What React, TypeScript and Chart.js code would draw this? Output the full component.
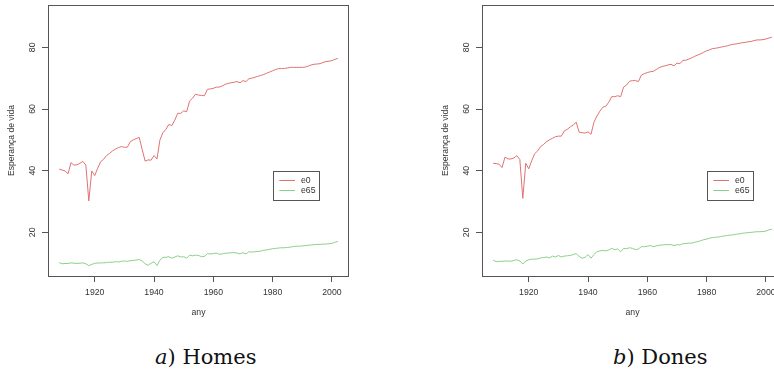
import React, { useEffect, useRef } from "react";
import { Chart, registerables } from "chart.js";

Chart.register(...registerables);

// ---------- data ----------
const years = [
  1908, 1909, 1910, 1911, 1912, 1913, 1914, 1915, 1916, 1917,
  1918, 1919, 1920, 1921, 1922, 1923, 1924, 1925, 1926, 1927,
  1928, 1929, 1930, 1931, 1932, 1933, 1934, 1935, 1936, 1937,
  1938, 1939, 1940, 1941, 1942, 1943, 1944, 1945, 1946, 1947,
  1948, 1949, 1950, 1951, 1952, 1953, 1954, 1955, 1956, 1957,
  1958, 1959, 1960, 1961, 1962, 1963, 1964, 1965, 1966, 1967,
  1968, 1969, 1970, 1971, 1972, 1973, 1974, 1975, 1976, 1977,
  1978, 1979, 1980, 1981, 1982, 1983, 1984, 1985, 1986, 1987,
  1988, 1989, 1990, 1991, 1992, 1993, 1994, 1995, 1996, 1997,
  1998, 1999, 2000, 2001, 2002,
];

const homesE0 = [
  40.5, 40.2, 39.9, 39.0, 42.6, 41.8, 41.9, 42.4, 43.0, 41.8,
  30.2, 39.9, 38.4, 40.8, 42.9, 43.7, 44.9, 45.6, 46.4, 47.0,
  47.5, 47.8, 47.6, 47.6, 49.4, 50.0, 50.4, 50.8, 46.9, 43.1,
  43.5, 43.4, 44.9, 43.8, 50.0, 52.3, 53.4, 55.0, 54.6, 56.4,
  58.6, 58.6, 59.4, 59.1, 62.6, 63.5, 64.8, 64.5, 64.4, 64.3,
  66.4, 66.5, 66.7, 67.1, 67.1, 67.5, 68.0, 68.3, 68.5, 68.7,
  68.9, 68.5, 69.2, 68.9, 69.8, 70.0, 70.3, 70.6, 70.9, 71.2,
  71.6, 72.0, 72.4, 72.8, 73.1, 73.1, 73.2, 73.3, 73.5, 73.5,
  73.5, 73.5, 73.5, 73.6, 73.9, 74.3, 74.5, 74.6, 74.7, 75.1,
  75.4, 75.5, 75.7, 76.1, 76.4,
];

const homesE65 = [
  10.2, 9.8, 9.9, 9.9, 10.1, 10.0, 9.9, 10.0, 10.1, 9.8,
  9.2, 9.6, 9.95, 10.05, 10.1, 10.1, 10.2, 10.3, 10.3, 10.5,
  10.4, 10.6, 10.7, 10.6, 10.8, 10.9, 11.0, 11.2, 10.7, 9.8,
  9.3, 10.0, 10.5, 9.2, 11.0, 11.9, 11.9, 12.1, 11.6, 12.0,
  12.4, 12.0, 12.1, 11.6, 12.6, 12.4, 12.6, 12.5, 12.1, 12.2,
  13.1, 13.0, 13.1, 13.3, 12.9, 13.0, 13.2, 13.3, 13.4, 13.4,
  13.3, 13.0, 13.4, 13.0, 13.7, 13.6, 13.7, 13.8, 13.9, 14.2,
  14.3, 14.5, 14.7, 14.8, 14.9, 15.0, 15.0, 15.1, 15.2, 15.4,
  15.5, 15.5, 15.6, 15.7, 15.8, 15.9, 16.0, 16.1, 16.1, 16.2,
  16.2, 16.3, 16.4, 16.8, 17.0,
];

const donesE0 = [
  42.4, 42.3, 42.1, 41.0, 44.4, 43.8, 43.8, 44.1, 44.9, 43.6,
  31.0, 42.4, 40.6, 43.2, 45.5, 46.4, 47.8, 48.5, 49.4, 50.0,
  50.5, 51.0, 51.2, 51.2, 52.9, 53.4, 54.2, 54.8, 55.7, 52.5,
  52.3, 52.2, 52.6, 51.8, 55.7, 57.7, 59.3, 60.6, 60.9, 62.2,
  64.0, 64.0, 64.3, 64.0, 67.1, 67.8, 69.0, 69.2, 69.2, 68.9,
  71.0, 71.5, 71.8, 72.1, 72.2, 72.8, 73.4, 73.8, 74.0, 74.3,
  74.5, 74.0, 74.9, 74.7, 75.8, 75.8, 76.2, 76.6, 77.1, 77.5,
  77.9, 78.4, 78.9, 79.2, 79.6, 79.7, 79.9, 80.1, 80.3, 80.5,
  80.8, 81.0, 81.1, 81.3, 81.5, 81.6, 81.8, 81.9, 82.2, 82.4,
  82.4, 82.5, 82.7, 83.0, 83.3,
];

const donesE65 = [
  11.0, 10.5, 10.6, 10.6, 10.7, 10.7, 10.6, 10.9, 11.1, 10.7,
  9.7, 10.7, 11.1, 11.3, 11.3, 11.4, 11.7, 11.8, 12.0, 11.7,
  12.3, 12.0, 12.5, 12.0, 12.3, 12.4, 12.5, 12.8, 13.1, 12.2,
  11.6, 11.9, 12.8, 11.6, 12.8, 13.7, 14.0, 14.1, 14.0, 14.3,
  14.8, 14.4, 14.6, 13.7, 14.8, 14.7, 15.0, 14.8, 14.4, 14.6,
  15.35, 15.35, 15.5, 15.7, 15.35, 15.6, 15.8, 15.9, 16.0, 16.0,
  16.0, 15.7, 16.0, 15.9, 16.3, 16.4, 16.5, 16.5, 16.8, 17.0,
  17.3, 17.6, 17.8, 18.1, 18.3, 18.4, 18.5, 18.7, 18.8, 19.0,
  19.1, 19.2, 19.4, 19.5, 19.7, 19.8, 19.9, 20.0, 20.1, 20.2,
  20.2, 20.3, 20.4, 20.8, 21.0,
];

const seriesLabels = ["e0", "e65"];
const xTickValues = [1920, 1940, 1960, 1980, 2000];
const yTickValues = [20, 40, 60, 80];
const xLimits = [1904.24, 2005.76];
const yLimits = [5.84, 93.73];

// ---------- styles ----------
const SANS = "'Liberation Sans', Arial, Helvetica, sans-serif";
const TEXT = "#333333";
const AXIS = "#555555";
const E0_COLOR = "#e07272";
const E65_COLOR = "#8ccf8c";
const CANVAS_W = 390;
const CANVAS_H = 330;

const rPlotPlugin = {
  id: "rPlot",
  afterDraw(chart: any) {
    const { ctx, chartArea: a, scales } = chart;
    const ys = scales.y;
    ctx.save();
    // box
    ctx.strokeStyle = AXIS;
    ctx.lineWidth = 1;
    ctx.strokeRect(
      Math.round(a.left) + 0.5,
      Math.round(a.top) + 0.5,
      Math.round(a.right) - Math.round(a.left) - 1,
      Math.round(a.bottom) - Math.round(a.top)
    );
    // rotated y tick labels
    ctx.fillStyle = TEXT;
    ctx.font = `8.7px ${SANS}`;
    ctx.textAlign = "center";
    ctx.textBaseline = "middle";
    for (const t of ys.ticks) {
      const py = ys.getPixelForValue(t.value);
      ctx.save();
      ctx.translate(a.left - 15.5, py);
      ctx.rotate(-Math.PI / 2);
      ctx.fillText(String(t.value), 0, 0);
      ctx.restore();
    }
    // legend
    const lx = a.left + 225;
    const ly = a.top + 165.7;
    const lw = 46.3;
    const lh = 28.6;
    ctx.strokeStyle = AXIS;
    ctx.strokeRect(Math.round(lx) + 0.5, Math.round(ly) + 0.5, Math.round(lw), Math.round(lh));
    chart.data.datasets.forEach((ds: any, i: number) => {
      const rowY = ly + 9.6 + i * 10;
      ctx.strokeStyle = ds.borderColor;
      ctx.lineWidth = 1;
      ctx.beginPath();
      ctx.moveTo(lx + 6.3, Math.round(rowY) + 0.5);
      ctx.lineTo(lx + 22, Math.round(rowY) + 0.5);
      ctx.stroke();
      ctx.fillStyle = TEXT;
      ctx.textAlign = "left";
      ctx.textBaseline = "middle";
      ctx.fillText(ds.label, lx + 28, rowY + 0.5);
    });
    ctx.restore();
  },
};

function Panel({ e0, e65, left }: { e0: number[]; e65: number[]; left: number }) {
  const ref = useRef<HTMLCanvasElement | null>(null);
  useEffect(() => {
    if (!ref.current) return;
    const chart = new Chart(ref.current, {
      type: "line",
      data: {
        datasets: [
          {
            label: seriesLabels[0],
            data: years.map((y, i) => ({ x: y, y: e0[i] })),
            borderColor: E0_COLOR,
            borderWidth: 1,
            pointRadius: 0,
            tension: 0,
            fill: false,
          },
          {
            label: seriesLabels[1],
            data: years.map((y, i) => ({ x: y, y: e65[i] })),
            borderColor: E65_COLOR,
            borderWidth: 1,
            pointRadius: 0,
            tension: 0,
            fill: false,
          },
        ],
      },
      options: {
        animation: false,
        responsive: false,
        devicePixelRatio: 1,
        layout: { padding: { left: 0, top: 5, right: 41, bottom: 0 } },
        plugins: { legend: { display: false }, tooltip: { enabled: false } },
        scales: {
          x: {
            type: "linear",
            min: xLimits[0],
            max: xLimits[1],
            afterBuildTicks: (s: any) => {
              s.ticks = xTickValues.map((v) => ({ value: v }));
            },
            afterFit: (s: any) => {
              s.height = 54;
            },
            grid: { drawOnChartArea: false, drawTicks: true, tickLength: 6, color: AXIS, lineWidth: 1 },
            border: { display: false },
            ticks: {
              autoSkip: false,
              maxRotation: 0,
              padding: 5,
              color: TEXT,
              font: { family: SANS, size: 8.7 },
              callback: (v: any) => String(v),
            },
            title: {
              display: true,
              text: "any",
              color: TEXT,
              font: { family: SANS, size: 8.7 },
              padding: { top: 0, bottom: 11.9 },
            },
          },
          y: {
            type: "linear",
            min: yLimits[0],
            max: yLimits[1],
            afterBuildTicks: (s: any) => {
              s.ticks = yTickValues.map((v) => ({ value: v }));
            },
            afterFit: (s: any) => {
              s.width = 48;
            },
            grid: { drawOnChartArea: false, drawTicks: true, tickLength: 6, color: AXIS, lineWidth: 1 },
            border: { display: false },
            ticks: { display: false },
            title: {
              display: true,
              text: "Esperança de vida",
              color: TEXT,
              font: { family: SANS, size: 8.6 },
              padding: { top: 6.6, bottom: 0 },
            },
          },
        },
      },
      plugins: [rPlotPlugin],
    } as any);
    return () => chart.destroy();
  }, [e0, e65]);
  return (
    <canvas
      ref={ref}
      width={CANVAS_W}
      height={CANVAS_H}
      style={{ position: "absolute", left, top: 0, width: CANVAS_W, height: CANVAS_H }}
    />
  );
}

const captionStyle: React.CSSProperties = {
  position: "absolute",
  top: 347,
  fontFamily: "'DejaVu Serif', 'Liberation Serif', serif",
  fontSize: 21,
  lineHeight: "21px",
  color: "#111",
  whiteSpace: "nowrap",
};

export default function App() {
  return (
    <div
      style={{
        position: "fixed",
        left: 0,
        top: 0,
        width: 774,
        height: 372,
        overflow: "hidden",
        background: "#fff",
      }}
    >
      <Panel e0={homesE0} e65={homesE65} left={0} />
      <Panel e0={donesE0} e65={donesE65} left={434} />
      <div style={{ ...captionStyle, left: 155 }}>
        <i>a</i>) Homes
      </div>
      <div style={{ ...captionStyle, left: 613 }}>
        <i>b</i>) Dones
      </div>
    </div>
  );
}
